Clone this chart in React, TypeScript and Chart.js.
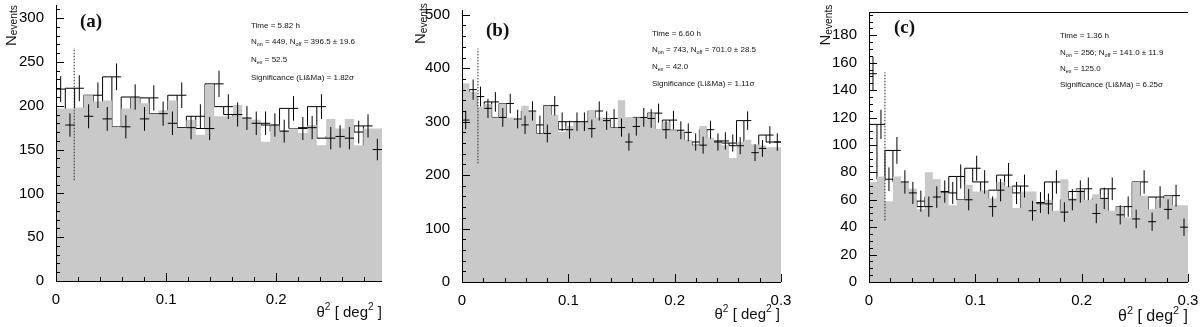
import React, { useEffect, useRef } from 'react';
import { Chart, registerables } from 'chart.js';

Chart.register(...registerables);

// ---------- data (bin contents) ----------
// Panel (a): 35 bins over 0 .. 0.296 deg^2
const A_OFF = [219, 197, 197, 198, 212, 205, 206, 176, 197, 210, 203, 191, 195, 206, 174, 184, 167, 224, 188, 188, 201, 186, 184, 159, 179, 172, 174, 169, 178, 155, 185, 174, 185, 155, 174];
const A_ON = [219, 178, 220, 188, 212, 185, 233, 176, 210, 185, 209, 191, 180, 212, 175, 188, 174, 225, 199, 190, 186, 180, 180, 178, 171, 197, 174, 175, 199, 163, 165, 163, 170, 177, 150];
// Panel (b): 43 bins over 0 .. 0.3 deg^2
const B_OFF = [330, 372, 356, 328, 333, 308, 334, 308, 303, 330, 319, 278, 330, 313, 281, 292, 301, 300, 322, 308, 306, 289, 340, 309, 308, 309, 316, 287, 300, 284, 281, 266, 256, 292, 270, 262, 256, 232, 262, 266, 258, 256, 252];
const B_ON = [303, 360, 347, 325, 337, 308, 334, 305, 294, 320, 294, 278, 330, 300, 285, 300, 300, 287, 320, 302, 306, 289, 262, 291, 308, 306, 316, 285, 303, 284, 280, 262, 256, 285, 262, 264, 260, 255, 302, 242, 250, 275, 262];
// Panel (c): 40 bins over 0 .. 0.3 deg^2
const C_OFF = [66, 73, 77, 59, 77, 73, 68, 53, 80, 75, 65, 56, 60, 71, 66, 67, 61, 73, 70, 54, 66, 66, 56, 60, 52, 75, 61, 68, 60, 64, 61, 52, 55, 47, 73, 63, 53, 61, 63, 56];
const C_ON = [152, 115, 75, 96, 73, 65, 59, 55, 62, 66, 65, 77, 60, 83, 73, 55, 67, 78, 65, 70, 52, 58, 57, 73, 51, 60, 66, 68, 50, 61, 68, 49, 55, 46, 73, 44, 62, 53, 63, 40];

// theta^2 cut (dotted line) : position and vertical extent
const A_CUT = [0.0165, 115, 266];
const B_CUT = [0.015, 222, 437];
const C_CUT = [0.015, 45, 153];

type Seg = { t: string; sub?: boolean; sup?: boolean };

const A_STATS: Seg[][] = [
  [{ t: 'Time = 5.82 h' }],
  [{ t: 'N' }, { t: 'on', sub: true }, { t: ' = 449, N' }, { t: 'off', sub: true }, { t: ' = 396.5 ± 19.6' }],
  [{ t: 'N' }, { t: 'ex', sub: true }, { t: ' = 52.5' }],
  [{ t: 'Significance (Li&Ma) = 1.82σ' }],
];
const B_STATS: Seg[][] = [
  [{ t: 'Time = 6.60 h' }],
  [{ t: 'N' }, { t: 'on', sub: true }, { t: ' = 743, N' }, { t: 'off', sub: true }, { t: ' = 701.0 ± 28.5' }],
  [{ t: 'N' }, { t: 'ex', sub: true }, { t: ' = 42.0' }],
  [{ t: 'Significance (Li&Ma) = 1.11σ' }],
];
const C_STATS: Seg[][] = [
  [{ t: 'Time = 1.36 h' }],
  [{ t: 'N' }, { t: 'on', sub: true }, { t: ' = 256; N' }, { t: 'off', sub: true }, { t: ' = 141.0 ± 11.9' }],
  [{ t: 'N' }, { t: 'ex', sub: true }, { t: ' = 125.0' }],
  [{ t: 'Significance (Li&Ma) = 6.25σ' }],
];

// ---------- layout / style ----------
const SANS = "'Liberation Sans', Arial, Helvetica, sans-serif";
const SERIF = "'Liberation Serif', 'Times New Roman', serif";
const GREY = '#c9c9c9';

interface Panel {
  left: number;
  width: number;
  off: number[];
  on: number[];
  cut: number[];
  stats: Seg[][];
  label: string;
  xMax: number;
  yMax: number;
  yStep: number;
  yMinor: number;
  axisW: number;
  axisH: number;
  padRight: number;
  padTop: number;
  labelX: number;
  labelY: number;
  statsX: number;
  statsY: number[];
  nX: number;
  nY: number;
  titleRight: number;
  titleBase: number;
  titleSize: number;
  topFrame: boolean;
}

const PANELS: Panel[] = [
  {
    left: 0, width: 400, off: A_OFF, on: A_ON, cut: A_CUT, stats: A_STATS, label: '(a)',
    xMax: 0.296, yMax: 315, yStep: 50, yMinor: 10,
    axisW: 56, axisH: 46, padRight: 18, padTop: 5,
    labelX: 80, labelY: 27, statsX: 251, statsY: [28, 44, 62, 80],
    nX: 15.5, nY: 46, titleRight: 382, titleBase: 317, titleSize: 15, topFrame: false,
  },
  {
    left: 400, width: 400, off: B_OFF, on: B_ON, cut: B_CUT, stats: B_STATS, label: '(b)',
    xMax: 0.3, yMax: 509, yStep: 100, yMinor: 20,
    axisW: 62, axisH: 45, padRight: 19, padTop: 10,
    labelX: 86, labelY: 36, statsX: 252, statsY: [36, 52, 69, 86],
    nX: 25, nY: 44, titleRight: 380, titleBase: 319, titleSize: 15, topFrame: false,
  },
  {
    left: 800, width: 400, off: C_OFF, on: C_ON, cut: C_CUT, stats: C_STATS, label: '(c)',
    xMax: 0.3, yMax: 197, yStep: 20, yMinor: 5,
    axisW: 69, axisH: 45, padRight: 12, padTop: 12,
    labelX: 94, labelY: 33, statsX: 260, statsY: [38, 55, 71, 87],
    nX: 30, nY: 45.5, titleRight: 388, titleBase: 321, titleSize: 16, topFrame: true,
  },
];

function segWidth(ctx: CanvasRenderingContext2D, segs: Seg[], size: number, family: string, sr = 0.68) {
  let w = 0;
  for (const s of segs) {
    const fs = s.sub || s.sup ? size * sr : size;
    ctx.font = `${fs}px ${family}`;
    w += ctx.measureText(s.t).width;
  }
  return w;
}

function drawSegs(
  ctx: CanvasRenderingContext2D, segs: Seg[], x: number, y: number, size: number, family: string,
  subDy: number, supDy: number, sr = 0.68,
) {
  let cx = x;
  for (const s of segs) {
    const fs = s.sub || s.sup ? size * sr : size;
    ctx.font = `${fs}px ${family}`;
    const dy = s.sub ? subDy : s.sup ? supDy : 0;
    ctx.fillText(s.t, cx, y + dy);
    cx += ctx.measureText(s.t).width;
  }
}

function PanelChart({ p }: { p: Panel }) {
  const ref = useRef<HTMLCanvasElement | null>(null);

  useEffect(() => {
    if (!ref.current) return;
    const n = p.off.length;
    const w = p.xMax / n;
    const edges = Array.from({ length: n + 1 }, (_, i) => i * w);
    const offStep = p.off.map((v, i) => ({ x: edges[i], y: v })).concat([{ x: p.xMax, y: p.off[n - 1] }]);
    const onStep = p.on.map((v, i) => ({ x: edges[i], y: v })).concat([{ x: p.xMax, y: p.on[n - 1] }]);
    const cross: { x: number; y: number | null }[] = [];
    p.on.forEach((v, i) => {
      const e = Math.sqrt(v);
      const c = (edges[i] + edges[i + 1]) / 2;
      cross.push({ x: edges[i], y: v }, { x: edges[i + 1], y: v }, { x: c, y: null });
      cross.push({ x: c, y: v - e }, { x: c, y: v + e }, { x: c, y: null });
    });
    const cutLine = [{ x: p.cut[0], y: p.cut[1] }, { x: p.cut[0], y: p.cut[2] }];

    const yTickVals = Array.from({ length: Math.floor(p.yMax / p.yStep + 1e-9) + 1 }, (_, k) => k * p.yStep);
    const xTickVals = Array.from({ length: Math.floor(p.xMax / 0.1 + 1e-9) + 1 }, (_, k) => Math.round(k * 10) / 100 * 10 / 10 * 1);

    const decor = {
      id: 'rootDecor',
      afterDatasetsDraw(chart: any) {
        const { ctx, chartArea: a, scales } = chart;
        const xs = scales.x;
        const ys = scales.y;
        ctx.save();
        ctx.strokeStyle = '#000';
        ctx.lineWidth = 1;
        const line = (x1: number, y1: number, x2: number, y2: number) => {
          ctx.beginPath();
          ctx.moveTo(x1, y1);
          ctx.lineTo(x2, y2);
          ctx.stroke();
        };
        const L = Math.round(a.left) + 0.5;
        const B = Math.round(a.bottom) + 0.5;
        line(L, a.top, L, a.bottom + 1);
        line(a.left, B, a.right, B);
        if (p.topFrame) line(a.left, Math.round(a.top) + 0.5, a.right, Math.round(a.top) + 0.5);
        // inside ticks (y)
        const ny = Math.floor(p.yMax / p.yMinor + 1e-9);
        const perMajor = Math.round(p.yStep / p.yMinor);
        for (let k = 0; k <= ny; k++) {
          const py = Math.round(ys.getPixelForValue(k * p.yMinor)) + 0.5;
          line(a.left, py, a.left + (k % perMajor === 0 ? 8 : 4), py);
        }
        // inside ticks (x)
        const nx = Math.floor(p.xMax / 0.02 + 1e-9);
        for (let k = 0; k <= nx; k++) {
          const px = Math.round(xs.getPixelForValue(k * 0.02)) + 0.5;
          line(px, a.bottom, px, a.bottom - (k % 5 === 0 ? 8 : 4));
        }
        // texts
        ctx.fillStyle = '#111';
        ctx.textAlign = 'left';
        ctx.textBaseline = 'alphabetic';
        ctx.font = `bold 19px ${SERIF}`;
        ctx.fillText(p.label, p.labelX, p.labelY);
        p.stats.forEach((segs, i) => drawSegs(ctx, segs, p.statsX, p.statsY[i], 8, SANS, 2, -3));
        ctx.save();
        ctx.translate(p.nX, p.nY);
        ctx.rotate(-Math.PI / 2);
        drawSegs(ctx, [{ t: 'N' }, { t: 'events', sub: true }], 0, 0, 15, SANS, 1.5, 0, 0.68);
        ctx.restore();
        const tSegs: Seg[] = [{ t: 'θ' }, { t: '2', sup: true }, { t: ' [ deg' }, { t: '2', sup: true }, { t: ' ]' }];
        const tw = segWidth(ctx, tSegs, p.titleSize, SANS);
        drawSegs(ctx, tSegs, p.titleRight - tw, p.titleBase, p.titleSize, SANS, 0, -p.titleSize * 0.45);
        ctx.restore();
      },
    };

    const tickFont = { family: SANS, size: 15 };
    const chart = new Chart(ref.current, {
      type: 'line',
      data: {
        datasets: [
          {
            data: onStep, stepped: 'after', borderColor: '#000', borderWidth: 1,
            pointRadius: 0, fill: false, order: 4,
          },
          {
            data: offStep, stepped: 'after', borderColor: GREY, borderWidth: 0,
            backgroundColor: GREY, pointRadius: 0, fill: 'origin', order: 3,
          },
          {
            data: cutLine, borderColor: '#222', borderWidth: 1, borderDash: [1.5, 1.5],
            pointRadius: 0, fill: false, order: 1,
          },
          {
            data: cross, borderColor: '#000', borderWidth: 1, pointRadius: 0,
            fill: false, spanGaps: false, order: 0,
          },
        ] as any,
      },
      options: {
        animation: false,
        responsive: false,
        maintainAspectRatio: false,
        events: [],
        layout: { padding: { left: 0, right: p.padRight, top: p.padTop, bottom: 0 } },
        plugins: { legend: { display: false }, tooltip: { enabled: false } },
        scales: {
          x: {
            type: 'linear', min: 0, max: p.xMax,
            grid: { display: false }, border: { display: false },
            ticks: {
              font: tickFont, color: '#000', padding: 2, maxRotation: 0, autoSkip: false,
              callback: (v: any) => {
                const r = Math.round(Number(v) * 10) / 10;
                return r === 0 ? '0' : String(r);
              },
            },
            afterBuildTicks: (s: any) => {
              s.ticks = xTickVals.map((v) => ({ value: v }));
            },
            afterFit: (s: any) => {
              s.height = p.axisH;
              s.paddingLeft = 0;
              s.paddingRight = 0;
            },
          },
          y: {
            type: 'linear', min: 0, max: p.yMax,
            grid: { display: false }, border: { display: false },
            ticks: { font: tickFont, color: '#000', padding: 4, autoSkip: false },
            afterBuildTicks: (s: any) => {
              s.ticks = yTickVals.map((v) => ({ value: v }));
            },
            afterFit: (s: any) => {
              s.width = p.axisW;
              s.paddingTop = 0;
              s.paddingBottom = 0;
            },
          },
        },
      } as any,
      plugins: [decor as any],
    });
    return () => chart.destroy();
  }, [p]);

  return (
    <canvas
      ref={ref}
      width={p.width}
      height={327}
      style={{ position: 'absolute', left: p.left, top: 0, width: p.width, height: 327 }}
    />
  );
}

export default function App() {
  return (
    <div style={{ position: 'fixed', left: 0, top: 0, width: 1200, height: 327, background: '#fff', overflow: 'hidden' }}>
      {PANELS.map((p) => (
        <PanelChart key={p.label} p={p} />
      ))}
    </div>
  );
}
